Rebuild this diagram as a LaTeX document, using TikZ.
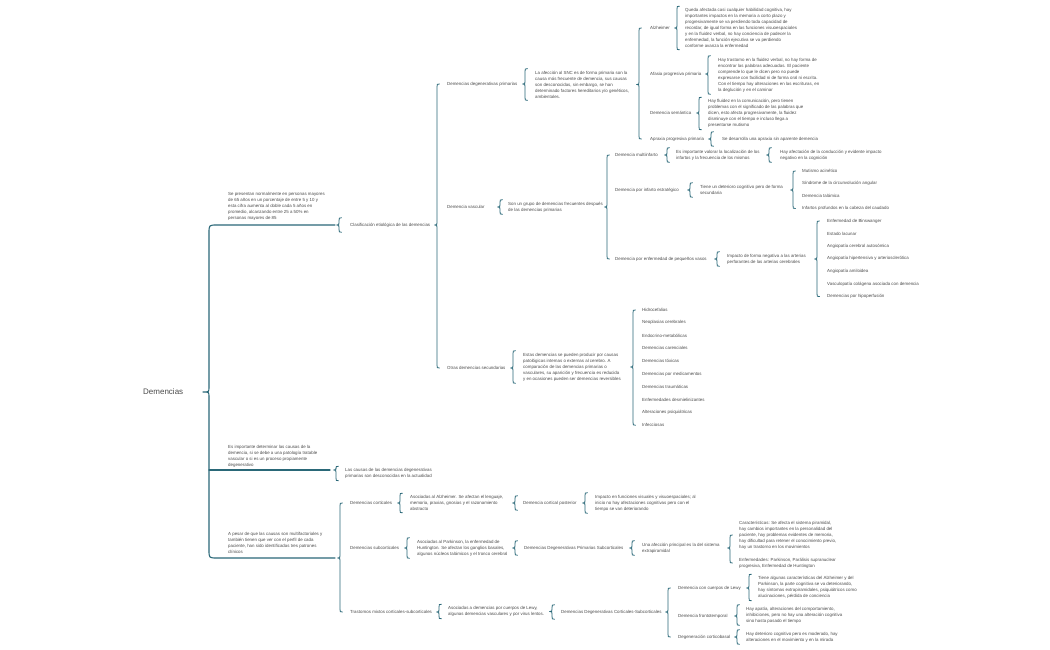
\documentclass[tikz,border=0pt]{standalone}
\usepackage{fontspec}
\setmainfont{Liberation Sans}
\usetikzlibrary{calc}
\definecolor{brcteal}{RGB}{42,104,120}
\definecolor{txtgray}{RGB}{75,75,75}
% curly bracket: tip point, top point, bottom point (x of bracket from top point)
\newcommand{\brk}[3]{%
  \draw[brc] let \p1=(#2), \p2=(#3), \p3=(#1) in
    (\x1+2.5pt,\y1) .. controls (\x1,\y1) .. (\x1,\y1-3pt)
    -- (\x1,\y3+2.5pt) .. controls (\x1,\y3) .. (\x1-2.5pt,\y3)
    .. controls (\x1,\y3) .. (\x1,\y3-2.5pt)
    -- (\x1,\y2+3pt) .. controls (\x1,\y2) .. (\x1+2.5pt,\y2);}
% bracket round a single node
\newcommand{\brkn}[3]{\brk{#1}{$(#2.north west)+(-#3,-2)$}{$(#2.south west)+(-#3,2)$}}
\begin{document}
\begin{tikzpicture}[x=1pt,y=-1pt,
  txt/.style={anchor=west,inner sep=0pt,minimum height=10pt,align=left,text=txtgray,
    font=\fontsize{4.4}{6}\selectfont},
  brc/.style={draw=brcteal,line width=0.8pt,line cap=round,line join=round}]
\fill[white] (0,0) rectangle (1050,650);
\useasboundingbox (0,0) rectangle (1050,650);

% root and first level
\node[txt,font=\fontsize{8}{9}\selectfont] (dem) at (143,392) {Demencias};
\node[txt] (b1) at (228,206) {Se presentan normalmente en personas mayores\\de 65 años en un porcentaje de entre 5 y 10 y\\esta cifra aumenta al doble cada 5 años en\\promedio, alcanzando entre 25 a 50\% en\\personas mayores de 85};
\node[txt] (b2) at (228,456) {Es importante determinar las causas de la\\demencia, si se debe a una patología tratable\\vascular o si es un proceso propiamente\\degenerativo};
\node[txt] (b3) at (228,542.5) {A pesar de que las causas son multifactoriales y\\también tienen que ver con el perfil de cada\\paciente, han sido identificadas tres patrones\\clínicos};
\coordinate (l1) at (335,225);
\coordinate (l2) at (330,470);
\coordinate (l3) at (335,558);
\draw[brc,line width=1.1pt] (l1) -- (217,225) .. controls (209,225) .. (209,233) -- (209,387)
  .. controls (209,392) .. (203,392) .. controls (209,392) .. (209,397) -- (209,550)
  .. controls (209,558) .. (217,558) -- (l3);
\draw[brc,line width=1.1pt] (209,470) -- (l2);

% clasificacion
\node[txt] (cla) at (350,225) {Clasificación etiológica de las demencias};
\node[txt] (dgp) at (447,84) {Demencias degenerativas primarias};
\node[txt] (dva) at (447,207) {Demencia vascular};
\node[txt] (dse) at (447,368) {Otras demencias secundarias};
\brkn{l1}{cla}{11}
\brk{cla.east}{$(dgp.west)+(-10,0)$}{$(dse.west)+(-10,0)$}

% degenerativas primarias
\node[txt] (dgpt) at (535,84.5) {La afección al SNC es de forma primaria son la\\causa más frecuente de demencia, sus causas\\son desconocidas, sin embargo, se han\\determinado factores hereditarios y/o genéticos,\\ambientales.};
\node[txt] (alz) at (650,28) {Alzheimer};
\node[txt] (alzt) at (685,28) {Queda afectada casi cualquier habilidad cognitiva, hay\\importantes impactos en la memoria a corto plazo y\\progresivamente se va perdiendo toda capacidad de\\recordar, de igual forma en las funciones visuoespaciales\\y en la fluidez verbal, no hay conciencia de padecer la\\enfermedad, la función ejecutiva se va perdiendo\\conforme avanza la enfermedad};
\node[txt] (afa) at (650,74) {Afasia progresiva primaria};
\node[txt] (afat) at (718,75) {Hay trastorno en la fluidez verbal, no hay forma de\\encontrar las palabras adecuadas. El paciente\\comprende lo que le dicen pero no puede\\expresarse con facilidad ni de forma oral ni escrita.\\Con el tiempo hay alteraciones en las escrituras, en\\la deglución y en el caminar};
\node[txt] (sem) at (650,113) {Demencia semántica};
\node[txt] (semt) at (708,113.5) {Hay fluidez en la comunicación, pero tienen\\problemas con el significado de las palabras que\\dicen, esto afecta progresivamente, la fluidez\\disminuye con el tiempo e incluso llega a\\presentarse mutismo};
\node[txt] (apr) at (650,139) {Apraxia progresiva primaria};
\node[txt] (aprt) at (722,139) {Se desarrolla una apraxia sin aparente demencia};
\brkn{dgp.east}{dgpt}{10}
\brk{dgpt.east}{$(alz.west)+(-11,0)$}{$(apr.west)+(-11,0)$}
\brkn{alz.east}{alzt}{8}
\brkn{afa.east}{afat}{10}
\brkn{sem.east}{semt}{9}
\brkn{apr.east}{aprt}{11}

% vascular
\node[txt] (dvat) at (508,207) {Son un grupo de demencias frecuentes después\\de las demencias primarias};
\node[txt] (mul) at (615,155) {Demencia multiinfarto};
\node[txt] (mult) at (676,155) {Es importante valorar la localización de los\\infartos y la frecuencia de los mismos};
\node[txt] (mulc) at (780,155) {Hay afectación de la conducción y evidente impacto\\negativo en la cognición};
\node[txt] (est) at (615,190) {Demencia por infarto estratégico};
\node[txt] (estt) at (700,190) {Tiene un deterioro cognitivo pero de forma\\secundaria};
\foreach \lbl [count=\i] in {Mutismo acinético,Síndrome de la circunvolución angular,
    Demencia talámica,Infartos profundos en la cabeza del caudado}
  \node[txt] (est\i) at (802,158.5+12.5*\i) {\lbl};
\node[txt] (pvs) at (615,259) {Demencia por enfermedad de pequeños vasos};
\node[txt] (pvst) at (727,259) {Impacto de forma negativa a las arterias\\perforantes de las arterias cerebrales};
\foreach \lbl [count=\i] in {Enfermedad de Binswanger,Estado lacunar,Angiopatía cerebral autosómica,
    Angiopatía hipertensiva y arteriosclerótica,Angiopatía amiloidea,
    Vasculopatía colágena asociada con demencia,Demencias por hipoperfusión}
  \node[txt] (pv\i) at (827,208.4+12.6*\i) {\lbl};
\brkn{dva.east}{dvat}{8}
\brk{dvat.east}{$(mul.west)+(-8,0)$}{$(pvs.west)+(-8,0)$}
\brkn{mul.east}{mult}{9}
\brkn{mult.east}{mulc}{11}
\brkn{est.east}{estt}{10}
\brk{estt.east}{$(est1.west)+(-9,0)$}{$(est4.west)+(-9,0)$}
\brkn{pvs.east}{pvst}{10}
\brk{pvst.east}{$(pv1.west)+(-10,0)$}{$(pv7.west)+(-10,0)$}

% secundarias
\node[txt] (dset) at (523,367) {Estas demencias se pueden producir por causas\\patológicas internas o externas al cerebro. A\\comparación de las demencias primarias o\\vasculares, su aparición y frecuencia es reducida\\y en ocasiones pueden ser demencias reversibles};
\foreach \lbl [count=\i] in {Hidrocefalias,Neoplasias cerebrales,Endocrino-metabólicas,
    Demencias carenciales,Demencias tóxicas,Demencias por medicamentos,Demencias traumáticas,
    Enfermedades desmielinizantes,Alteraciones psiquiátricas,Infecciosas}
  \node[txt] (sec\i) at (642,297.2+12.8*\i) {\lbl};
\brkn{dse.east}{dset}{10}
\brk{dset.east}{$(sec1.west)+(-9,0)$}{$(sec10.west)+(-9,0)$}

% causas
\node[txt] (cau) at (345,473.5) {Las causas de las demencias degenerativas\\primarias son desconocidas en la actualidad};
\brkn{l2}{cau}{9}

% patrones clinicos
\node[txt] (cor) at (350,503) {Demencias corticales};
\node[txt] (cort) at (410,503) {Asociadas al Alzheimer. Se afectan el lenguaje,\\memoria, praxias, gnosias y el razonamiento\\abstracto};
\node[txt] (cpo) at (523,503) {Demencia cortical posterior};
\node[txt] (cpot) at (595,503) {Impacto en funciones visuales y visuoespaciales; al\\inicio no hay afectaciones cognitivas pero con el\\tiempo se van deteriorando};
\node[txt] (sub) at (350,548) {Demencias subcorticales};
\node[txt] (subt) at (417,548) {Asociadas al Parkinson, la enfermedad de\\Huntington. Se afectan los ganglios basales,\\algunos núcleos talámicos y el tronco cerebral};
\node[txt] (dps) at (524,548) {Demencias Degenerativas Primarias Subcorticales};
\node[txt] (dpst) at (642,548) {Una afección principal es la del sistema\\extrapiramidal};
\node[txt] (car) at (739,535) {Características: Se afecta el sistema piramidal,\\hay cambios importantes en la personalidad del\\paciente, hay problemas evidentes de memoria,\\hay dificultad para retener el conocimiento previo,\\hay un trastorno en los movimientos};
\node[txt] (enf) at (739,563) {Enfermedades: Parkinson, Parálisis supranuclear\\progresiva, Enfermedad de Huntington};
\node[txt] (mix) at (350,612) {Trastornos mixtos corticales-subcorticales};
\node[txt] (mixt) at (448,611.5) {Asociadas a demencias por cuerpos de Lewy,\\algunas demencias vasculares y por virus lentos.};
\node[txt] (dcs) at (561,612) {Demencias Degenerativas Corticales-Subcorticales};
\node[txt] (lew) at (678,588) {Demencia con cuerpos de Lewy};
\node[txt] (lewt) at (758,587.5) {Tiene algunas características del Alzheimer y del\\Parkinson, la parte cognitiva se va deteriorando,\\hay síntomas extrapiramidales, psiquiátricos como\\alucinaciones, pérdida de conciencia};
\node[txt] (ftd) at (678,616) {Demencia frontotemporal};
\node[txt] (ftdt) at (746,615) {Hay apatía, alteraciones del comportamiento,\\inhibiciones, pero no hay una alteración cognitiva\\sino hasta pasado el tiempo};
\node[txt] (cbd) at (678,637) {Degeneración corticobasal};
\node[txt] (cbdt) at (746,637) {Hay deterioro cognitivo pero es moderado, hay\\alteraciones en el movimiento y en la mirada};
\brk{l3}{$(cor.west)+(-10,0)$}{$(mix.west)+(-10,0)$}
\brkn{cor.east}{cort}{10}
\brkn{cort.east}{cpo}{8}
\brkn{cpo.east}{cpot}{10}
\brkn{sub.east}{subt}{10}
\brkn{subt.east}{dps}{9}
\brkn{dps.east}{dpst}{10}
\brk{dpst.east}{$(car.west)+(-9,0)$}{$(enf.west)+(-9,0)$}
\brkn{mix.east}{mixt}{9}
\brkn{mixt.east}{dcs}{9}
\brk{dcs.east}{$(lew.west)+(-10,0)$}{$(cbd.west)+(-10,0)$}
\brkn{lew.east}{lewt}{9}
\brkn{ftd.east}{ftdt}{9}
\brkn{cbd.east}{cbdt}{9}
\end{tikzpicture}
\end{document}
